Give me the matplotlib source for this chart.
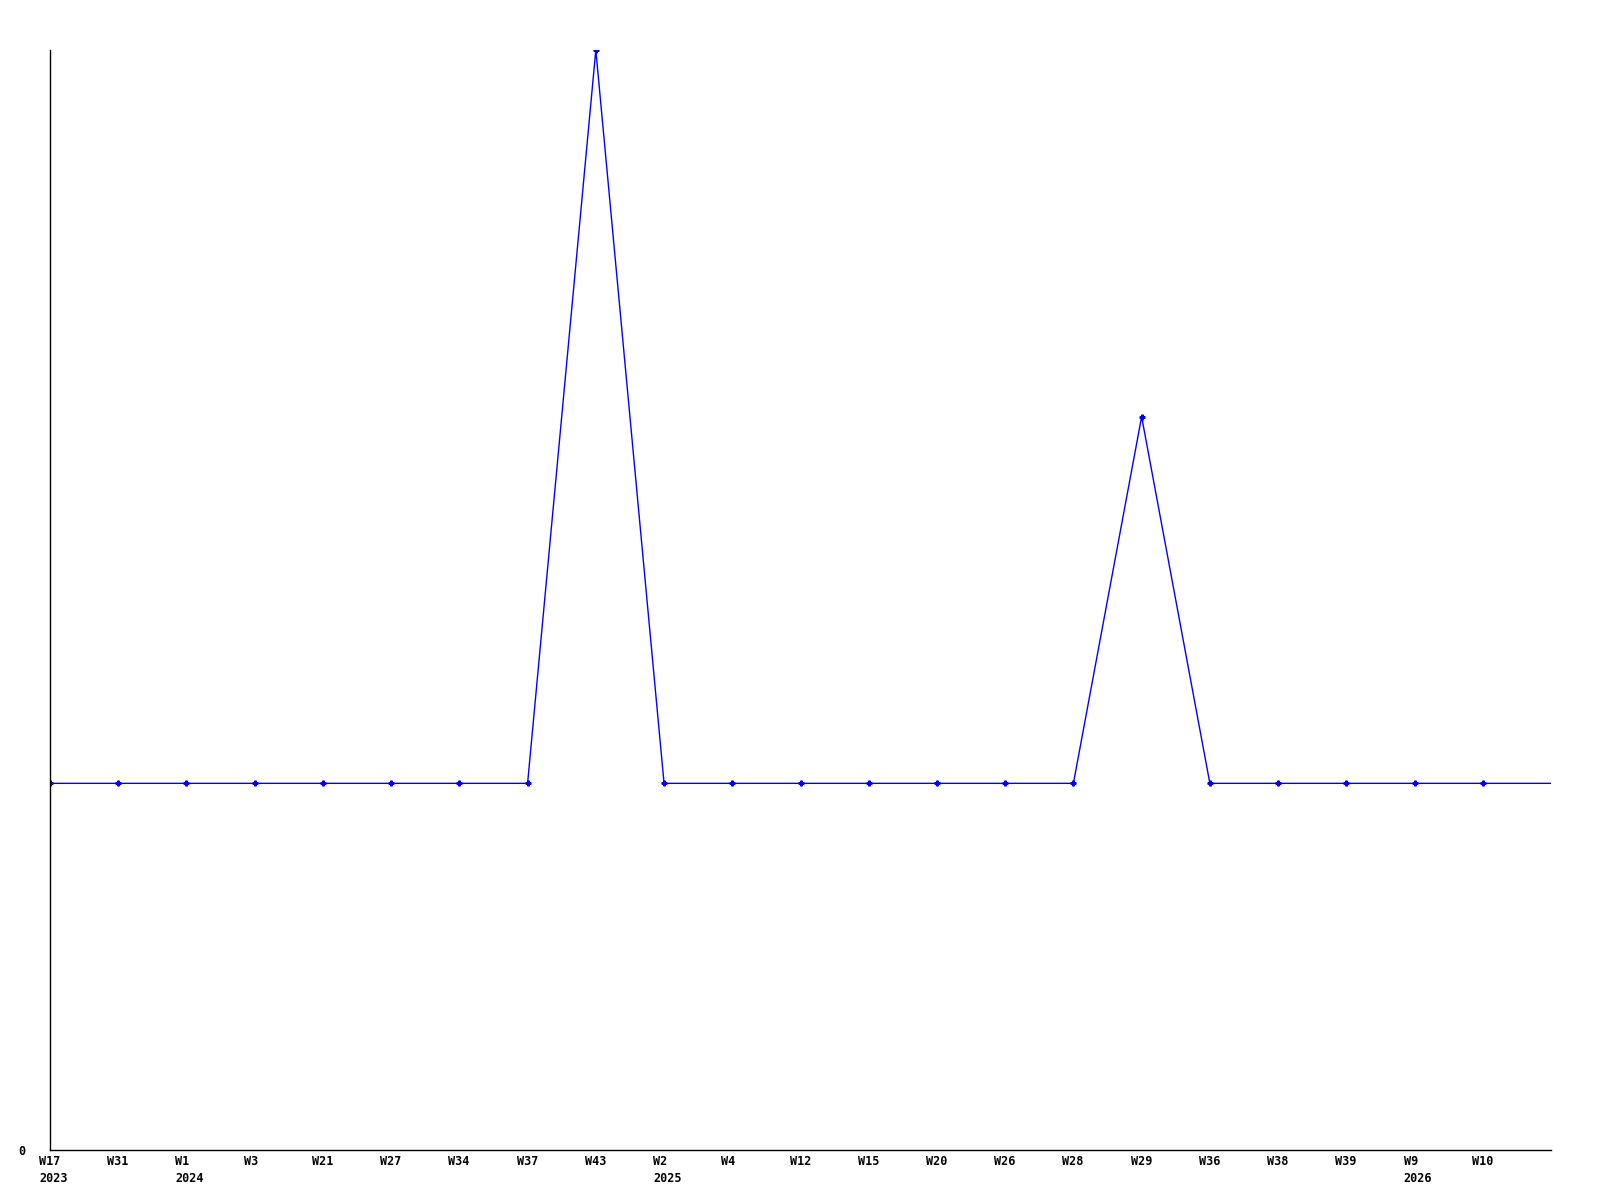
import matplotlib
matplotlib.use("Agg")
import matplotlib.pyplot as plt
import matplotlib.transforms as mtransforms

weeks = ["W17", "W31", "W1", "W3", "W21", "W27", "W34", "W37", "W43", "W2",
         "W4", "W12", "W15", "W20", "W26", "W28", "W29", "W36", "W38", "W39",
         "W9", "W10"]
years = ["2023", "", "2024", "", "", "", "", "", "", "2025",
         "", "", "", "", "", "", "", "", "", "",
         "2026", ""]
# last value carries the line on to the right edge of the plot
values = [1, 1, 1, 1, 1, 1, 1, 1, 3, 1,
          1, 1, 1, 1, 1, 1, 2, 1, 1, 1,
          1, 1, 1]

fig = plt.figure(figsize=(16, 12), dpi=100)
ax = fig.add_axes([50 / 1600, 50 / 1200, 1501 / 1600, 1100 / 1200])

xs = list(range(len(values)))
ax.plot(xs, values, color="#0000ff", lw=1, marker="P", ms=3.5,
        markevery=slice(0, len(weeks)))

ax.set_xlim(0, len(values) - 1)
ax.set_ylim(0, 3)

for s in ["top", "right"]:
    ax.spines[s].set_visible(False)
for s in ["left", "bottom"]:
    ax.spines[s].set_linewidth(1)
    ax.spines[s].set_color("black")

font = dict(family="DejaVu Sans Mono", weight="bold", size=8.5)

# week / year labels, left aligned a little left of each point
ax.set_xticks([])
offset = mtransforms.ScaledTranslation(-11 / 100, -5 / 100, fig.dpi_scale_trans)
trans = ax.get_xaxis_transform() + offset
for i, (w, y) in enumerate(zip(weeks, years)):
    label = w + ("\n" + y if y else "")
    ax.text(i, 0, label, transform=trans, ha="left", va="top",
            linespacing=1.35, **font)

ax.set_yticks([0])
ax.set_yticklabels(["0"], **font)
ax.tick_params(axis="y", length=0, pad=18)

fig.savefig("out.png", dpi=100)
